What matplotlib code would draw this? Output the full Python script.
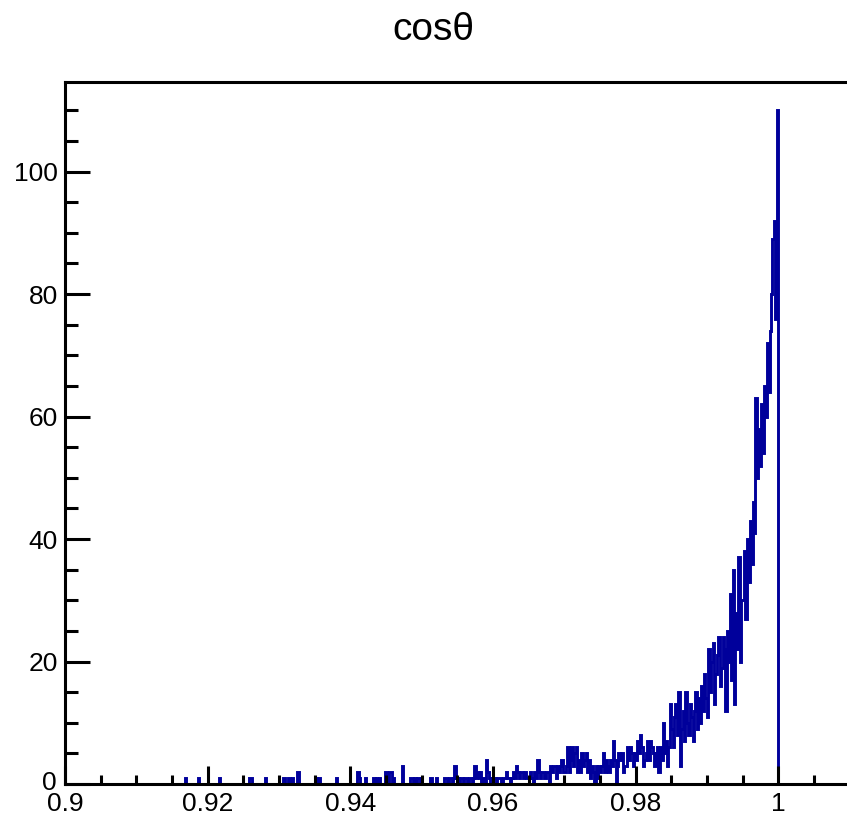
import matplotlib

matplotlib.use("Agg")
import matplotlib.pyplot as plt
import numpy as np
from matplotlib.ticker import FuncFormatter, MultipleLocator

# histogram of cos(theta): 500 bins of 0.0002 from 0.90 to 1.00,
# stored in blocks of 25 bins (one block per 0.005 in x)
X_MIN, X_MAX, BIN_W = 0.90, 1.01, 0.0002

counts_0900 = [0] * 25
counts_0905 = [0] * 25
counts_0910 = [0] * 25
counts_0915 = [0, 0, 0, 0, 0, 0, 0, 0, 0, 1, 0, 0, 0, 0, 0, 0, 0, 0, 1, 0, 0, 0, 0, 0, 0]
counts_0920 = [0, 0, 0, 0, 0, 0, 0, 0, 1, 0, 0, 0, 0, 0, 0, 0, 0, 0, 0, 0, 0, 0, 0, 0, 0]
counts_0925 = [0, 0, 0, 0, 1, 1, 0, 0, 0, 0, 0, 0, 0, 0, 0, 1, 0, 0, 0, 0, 0, 0, 0, 0, 0]
counts_0930 = [0, 0, 0, 1, 0, 0, 1, 1, 0, 1, 0, 0, 0, 2, 0, 0, 0, 0, 0, 0, 0, 0, 0, 0, 0]
counts_0935 = [0, 1, 0, 1, 0, 0, 0, 0, 0, 0, 0, 0, 0, 0, 0, 1, 0, 0, 0, 0, 0, 0, 0, 0, 0]
counts_0940 = [0, 0, 0, 0, 0, 2, 1, 0, 0, 0, 1, 0, 0, 0, 0, 0, 1, 0, 1, 0, 1, 0, 0, 0, 2]
counts_0945 = [2, 0, 2, 2, 0, 1, 0, 0, 0, 0, 0, 3, 0, 0, 0, 0, 0, 1, 1, 0, 1, 0, 1, 1, 0]
counts_0950 = [0, 0, 0, 0, 0, 0, 1, 0, 0, 0, 1, 0, 0, 0, 0, 0, 1, 1, 0, 1, 1, 0, 1, 3, 1]
counts_0955 = [1, 0, 1, 1, 0, 1, 1, 0, 1, 1, 0, 1, 3, 1, 2, 1, 2, 0, 1, 0, 4, 2, 1, 0, 1]
counts_0960 = [1, 1, 0, 1, 1, 1, 0, 1, 1, 2, 1, 1, 0, 1, 2, 1, 3, 2, 1, 2, 2, 1, 2, 1, 1]
counts_0965 = [1, 2, 1, 0, 2, 1, 4, 2, 1, 2, 2, 1, 2, 2, 0, 3, 2, 3, 3, 1, 3, 2, 3, 4, 2]
counts_0970 = [2, 3, 6, 2, 4, 6, 3, 5, 6, 2, 4, 2, 5, 3, 4, 5, 2, 4, 1, 3, 2, 0, 3, 1, 3]
counts_0975 = [2, 3, 5, 2, 4, 3, 2, 4, 3, 7, 4, 0, 3, 5, 4, 5, 2, 3, 3, 6, 4, 6, 5, 3, 5]
counts_0980 = [4, 7, 5, 8, 6, 3, 4, 5, 7, 4, 7, 6, 5, 3, 5, 6, 2, 6, 4, 10, 5, 7, 3, 6, 13]
counts_0985 = [9, 6, 11, 13, 8, 15, 3, 9, 12, 7, 15, 10, 8, 13, 11, 7, 12, 15, 9, 14,
               10, 16, 12, 18, 14]
counts_0990 = [11, 22, 15, 20, 23, 13, 18, 21, 24, 16, 19, 24, 22, 12, 25, 20, 31, 17, 35, 13,
               28, 22, 37, 20, 30]
counts_0995 = [30, 38, 27, 40, 33, 43, 36, 46, 41, 63, 50, 58, 52, 62, 54, 65, 60, 72, 64, 74,
               80, 89, 92, 76, 110]

counts = np.concatenate([
    counts_0900, counts_0905, counts_0910, counts_0915, counts_0920,
    counts_0925, counts_0930, counts_0935, counts_0940, counts_0945,
    counts_0950, counts_0955, counts_0960, counts_0965, counts_0970,
    counts_0975, counts_0980, counts_0985, counts_0990, counts_0995,
]).astype(float)
edges = X_MIN + BIN_W * np.arange(len(counts) + 1)

HIST_COLOR = "#00009b"
LABEL_SIZE = 19
plt.rcParams["font.family"] = ["Liberation Sans", "DejaVu Sans"]

W, H = 847, 821
fig = plt.figure(figsize=(W / 100, H / 100), dpi=100)
# frame runs a little past the right edge of the canvas
left, right, top, bottom = 65, 849.5, 82, 784
ax = fig.add_axes([left / W, 1 - bottom / H, (right - left) / W, (bottom - top) / H])

ax.stairs(counts, edges, color=HIST_COLOR, lw=2.1, baseline=0)

ax.set_xlim(X_MIN, X_MAX)
ax.set_ylim(0, counts.max() * 1.042)

ax.xaxis.set_major_locator(MultipleLocator(0.02))
ax.xaxis.set_minor_locator(MultipleLocator(0.005))
ax.yaxis.set_major_locator(MultipleLocator(20))
ax.yaxis.set_minor_locator(MultipleLocator(5))
ax.xaxis.set_major_formatter(FuncFormatter(lambda v, _: f"{v:g}"))
# the y "0" is drawn separately, a little higher, so it clears the "0.9"
ax.yaxis.set_major_formatter(FuncFormatter(lambda v, _: "" if v == 0 else f"{v:g}"))
ax.annotate("0", xy=(0, 0), xycoords=("axes fraction", "data"),
            xytext=(-8, 4), textcoords="offset pixels",
            ha="right", va="center_baseline", fontsize=LABEL_SIZE)

ax.tick_params(axis="both", which="both", direction="in", width=2.2,
               top=False, right=False, labelsize=LABEL_SIZE)
ax.tick_params(axis="x", which="major", length=13, pad=6)
ax.tick_params(axis="x", which="minor", length=6.5)
ax.tick_params(axis="y", which="major", length=18, pad=5)
ax.tick_params(axis="y", which="minor", length=9.5)
for sp in ax.spines.values():
    sp.set_linewidth(2.2)

fig.text(433 / W, 1 - 30 / H, "cos\u03b8", ha="center", va="center",
         fontsize=28)

fig.savefig("out.png", dpi=100)
